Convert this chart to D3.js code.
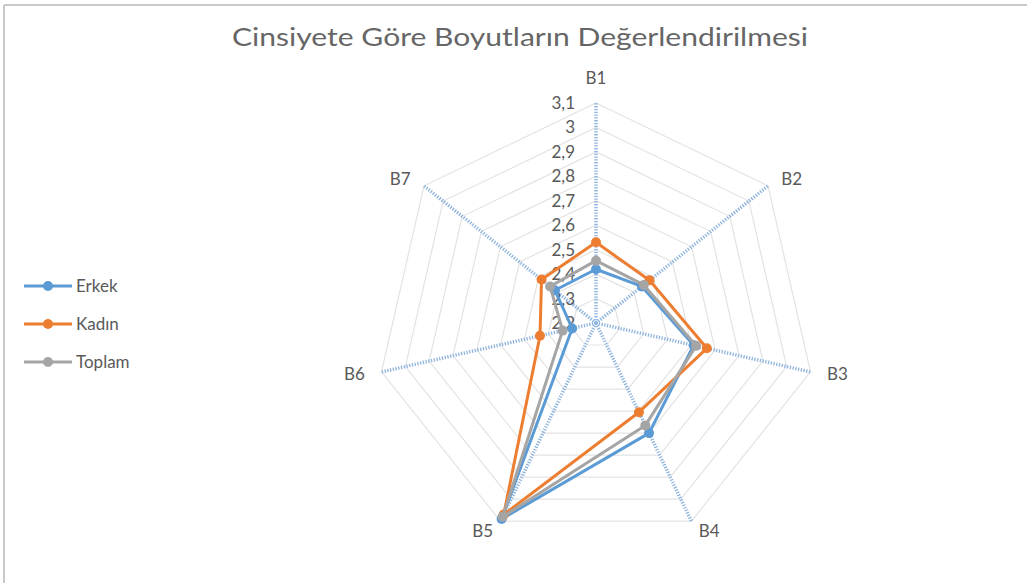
<!DOCTYPE html>
<html>
<head>
<meta charset="utf-8">
<script src="https://cdn.jsdelivr.net/npm/d3@7"></script>
<style>
  html, body { margin: 0; padding: 0; background: #fff; }
  svg { display: block; font-family: Lato, "Open Sans", sans-serif; }
</style>
</head>
<body>
<svg id="chart" width="1027" height="583"></svg>
<script>
// categories and values
const axes = ["B1", "B2", "B3", "B4", "B5", "B6", "B7"];
const erkek = [2.42, 2.44, 2.61, 2.70, 3.09, 2.30, 2.415];
const kadin = [2.53, 2.48, 2.665, 2.605, 3.07, 2.435, 2.485];
const toplam = [2.455, 2.45, 2.62, 2.665, 3.08, 2.34, 2.44];
const tickValues = [2.2, 2.3, 2.4, 2.5, 2.6, 2.7, 2.8, 2.9, 3.0, 3.1];

const series = [
  { name: "Erkek", values: erkek, color: "#5B9BD5" },
  { name: "Kadın", values: kadin, color: "#ED7D31" },
  { name: "Toplam", values: toplam, color: "#A5A5A5" },
];

const width = 1027, height = 583;
const cx = 596, cy = 323, R = 220;
const textColor = "#595959";

const svg = d3.select("#chart");

// frame (only top and left edges are visible in the picture)
svg.append("line").attr("x1", 4).attr("x2", width).attr("y1", 5).attr("y2", 5)
  .attr("stroke", "#c8c8c8").attr("stroke-width", 2);
svg.append("line").attr("x1", 4).attr("x2", 4).attr("y1", 5).attr("y2", height)
  .attr("stroke", "#c8c8c8").attr("stroke-width", 2);

// title
svg.append("text")
  .attr("x", 520).attr("y", 46)
  .attr("text-anchor", "middle")
  .attr("font-size", 25)
  .attr("fill", "#666666")
  .attr("textLength", 576)
  .attr("lengthAdjust", "spacingAndGlyphs")
  .text("Cinsiyete Göre Boyutların Değerlendirilmesi");

const r = d3.scaleLinear().domain([2.2, 3.1]).range([0, R]);
const angle = d3.scalePoint().domain(axes).range([0, 2 * Math.PI * (axes.length - 1) / axes.length]);

function pt(axis, v) {
  const a = angle(axis);
  return [cx + r(v) * Math.sin(a), cy - r(v) * Math.cos(a)];
}

const g = svg.append("g");

// grid polygons
g.selectAll("polygon.grid")
  .data(tickValues.slice(1))
  .enter()
  .append("polygon")
  .attr("class", "grid")
  .attr("points", (t) => axes.map((a) => pt(a, t).join(",")).join(" "))
  .attr("fill", "none")
  .attr("stroke", "#e3e3e3")
  .attr("stroke-width", 1.2);

// dotted spokes
g.selectAll("line.spoke")
  .data(axes)
  .enter()
  .append("line")
  .attr("class", "spoke")
  .attr("x1", cx).attr("y1", cy)
  .attr("x2", (a) => pt(a, 3.1)[0])
  .attr("y2", (a) => pt(a, 3.1)[1])
  .attr("stroke", "#8FB4DE")
  .attr("stroke-width", 3.5)
  .attr("stroke-dasharray", "1.3,1.5");

// tick labels along B1
g.selectAll("text.tick")
  .data(tickValues)
  .enter()
  .append("text")
  .attr("class", "tick")
  .attr("x", cx - 21)
  .attr("y", (t) => cy - r(t))
  .attr("dy", "0.35em")
  .attr("text-anchor", "end")
  .attr("font-size", 17)
  .attr("fill", textColor)
  .text((t) => d3.format(".1~f")(t).replace(".", ","));

// axis labels
g.selectAll("text.axis")
  .data(axes)
  .enter()
  .append("text")
  .attr("class", "axis")
  .attr("x", (a) => cx + (R + 17) * Math.sin(angle(a)))
  .attr("y", (a) => {
    const c = Math.cos(angle(a));
    return cy - (R + 17) * c + (c > 0.9 ? 0 : 6 * c);
  })
  .attr("dy", (a) => (Math.cos(angle(a)) > 0.9 ? "-0.1em" : "0.35em"))
  .attr("text-anchor", (a) => {
    const s = Math.sin(angle(a));
    return s > 0.1 ? "start" : s < -0.1 ? "end" : "middle";
  })
  .attr("font-size", 17)
  .attr("fill", textColor)
  .text((a) => a);

// series
const line = d3.line().curve(d3.curveLinearClosed);
const sg = g.selectAll("g.series")
  .data(series)
  .enter()
  .append("g")
  .attr("class", "series");

sg.append("path")
  .attr("d", (s) => line(axes.map((a, i) => pt(a, s.values[i]))))
  .attr("fill", "none")
  .attr("stroke", (s) => s.color)
  .attr("stroke-width", 3)
  .attr("stroke-linejoin", "round");

sg.selectAll("circle")
  .data((s) => axes.map((a, i) => ({ p: pt(a, s.values[i]), color: s.color })))
  .enter()
  .append("circle")
  .attr("cx", (d) => d.p[0])
  .attr("cy", (d) => d.p[1])
  .attr("r", 5)
  .attr("fill", (d) => d.color);

// legend
const legend = svg.append("g")
  .selectAll("g")
  .data(series)
  .enter()
  .append("g")
  .attr("transform", (s, i) => `translate(24, ${286 + i * 38})`);

legend.append("line")
  .attr("x1", 0).attr("x2", 48)
  .attr("stroke", (s) => s.color)
  .attr("stroke-width", 3);
legend.append("circle")
  .attr("cx", 24).attr("r", 5)
  .attr("fill", (s) => s.color);
legend.append("text")
  .attr("x", 52).attr("dy", "0.35em")
  .attr("font-size", 17)
  .attr("fill", textColor)
  .text((s) => s.name);
</script>
</body>
</html>
